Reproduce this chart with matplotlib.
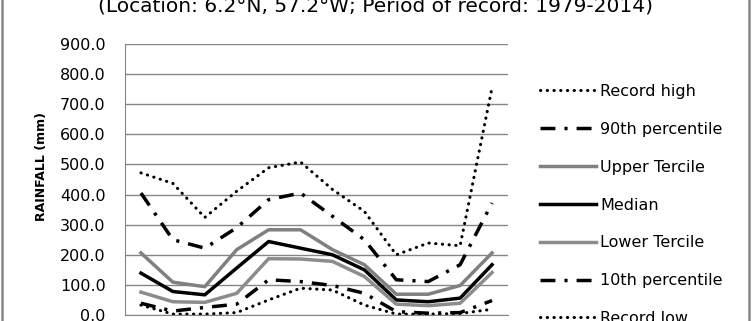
import numpy as np
import matplotlib.pyplot as plt
from matplotlib.lines import Line2D

# Monthly rainfall statistics (mm)
months = ['Jan', 'Feb', 'Mar', 'Apr', 'May', 'Jun', 'Jul', 'Aug', 'Sep', 'Oct', 'Nov', 'Dec']
record_high = [472, 437, 324, 411, 489, 508, 417, 344, 200, 239, 230, 755]
p90 = [405, 250, 222, 290, 383, 405, 328, 250, 117, 111, 167, 372]
upper_tercile = [206, 109, 94, 217, 283, 283, 217, 167, 69, 69, 98, 206]
median = [139, 78, 67, 156, 244, 222, 200, 150, 50, 44, 56, 167]
lower_tercile = [76, 44, 42, 72, 187, 186, 178, 128, 36, 31, 39, 141]
p10 = [39, 13, 25, 36, 117, 111, 98, 72, 11, 6, 8, 48]
record_low = [33, 3, 3, 8, 50, 89, 83, 33, 3, 3, 5, 19]

title = '(Location: 6.2\u00b0N, 57.2\u00b0W; Period of record: 1979-2014)'

plt.rcParams['font.family'] = ['DejaVu Sans']

W, H = 752, 321
fig = plt.figure(figsize=(W / 100, H / 100), dpi=100)
ax = fig.add_axes([125 / W, (H - 315) / H, 383 / W, 271 / H])

x = np.arange(len(months))
grey = '#808080'
dashdot = (0, (4.3, 2.6, 0.9, 2.6))
dots = (0, (0.1, 2.1))

ax.plot(x, record_high, color='black', lw=2.2, linestyle=dots,
        dash_capstyle='round', label='Record high')
ax.plot(x, p90, color='black', lw=2.5, linestyle=dashdot, label='90th percentile')
ax.plot(x, upper_tercile, color=grey, lw=2.5, label='Upper Tercile')
ax.plot(x, median, color='black', lw=2.5, label='Median')
ax.plot(x, lower_tercile, color='#8c8c8c', lw=2.5, label='Lower Tercile')
ax.plot(x, p10, color='black', lw=2.5, linestyle=dashdot, label='10th percentile')
ax.plot(x, record_low, color='black', lw=2.2, linestyle=dots,
        dash_capstyle='round', label='Record low')

ax.set_xlim(-0.5, 11.5)
ax.set_ylim(0, 900)
ax.set_yticks(np.arange(0, 901, 100))
ax.set_yticklabels([f'{v:.1f}' for v in np.arange(0, 901, 100)], fontsize=11.5)
# month labels sit below the visible area in the reference
ax.set_xticks(x)
ax.set_xticklabels([])
ax.tick_params(length=0, pad=14)
ax.grid(axis='y', color='#868686', lw=1)
ax.set_axisbelow(True)
for s in ['top', 'right']:
    ax.spines[s].set_visible(False)
for s in ['left', 'bottom']:
    ax.spines[s].set_color('#868686')

fig.text(42 / W, 1 - 167 / H, 'RAINFALL (mm)', rotation=90, ha='center', va='center',
         fontsize=9, fontweight='bold')
fig.text(375 / W, 1 - 12 / H, title, ha='center', va='baseline', fontsize=14.5)

ax.legend(loc='upper left', bbox_to_anchor=(540 / W, 1 - 84 / H),
          bbox_transform=fig.transFigure, frameon=False, fontsize=11.5,
          handlelength=3.5, handletextpad=0.25, labelspacing=1.43, borderpad=0,
          borderaxespad=0)

# chart area border (left/right edges visible)
fig.add_artist(Line2D([2 / W, 2 / W], [0, 1], color='#868686', lw=1.8))
fig.add_artist(Line2D([749 / W, 749 / W], [0, 1], color='#868686', lw=1.8))

fig.savefig('out.png', dpi=100)
